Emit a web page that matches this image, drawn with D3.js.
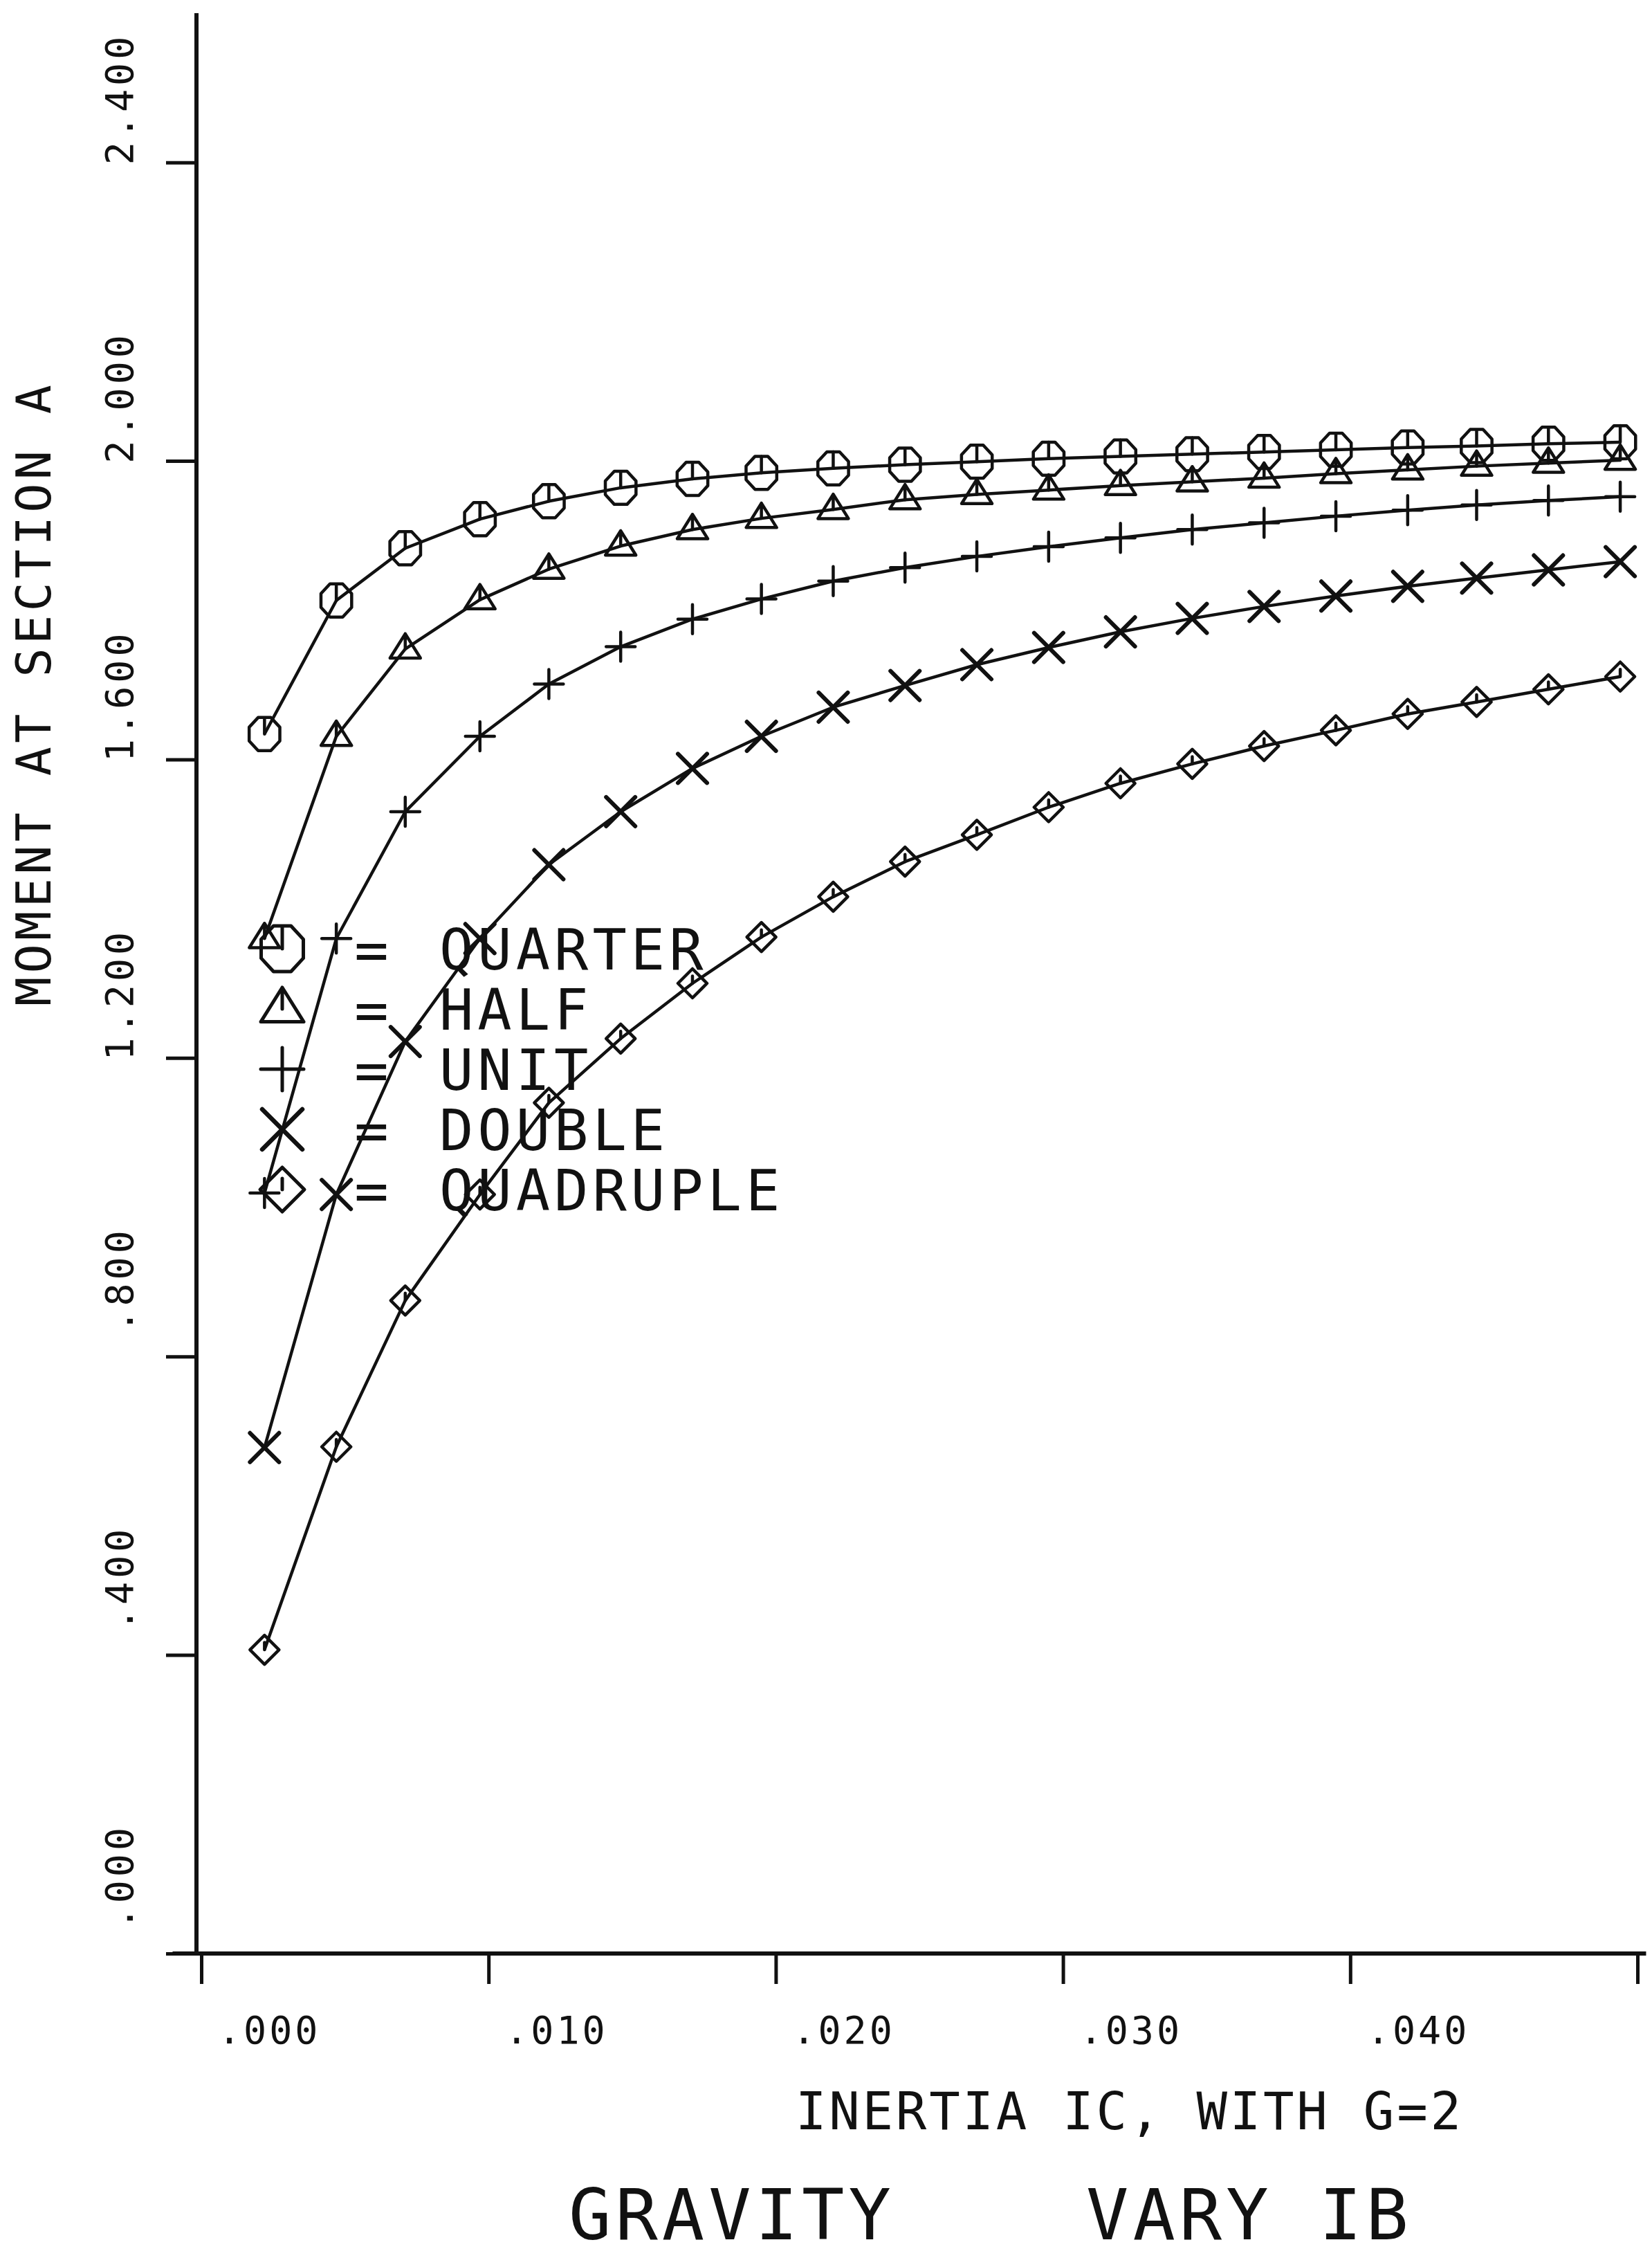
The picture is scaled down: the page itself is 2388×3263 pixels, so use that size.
<!DOCTYPE html>
<html>
<head>
<meta charset="utf-8">
<title>Gravity - vary IB</title>
<script src="https://cdn.jsdelivr.net/npm/d3@7"></script>
<style>
  html, body { margin: 0; padding: 0; background: #fff; }
  svg { display: block; }
  text { font-family: 'DejaVu Sans Mono', 'Liberation Mono', monospace; fill: #111; }
</style>
</head>
<body>
<div id="chart"></div>
<script>
// valores
const inertia = [0.0022, 0.0047, 0.0071, 0.0097, 0.0121, 0.0146, 0.0171, 0.0195, 0.0220, 0.0245,
  0.0270, 0.0295, 0.0320, 0.0345, 0.0370, 0.0395, 0.0420, 0.0444, 0.0469, 0.0494];
const quarter = [1.634, 1.813, 1.883, 1.922, 1.946, 1.964, 1.976, 1.984, 1.990, 1.995,
  1.999, 2.003, 2.006, 2.009, 2.012, 2.015, 2.018, 2.020, 2.023, 2.025];
const half = [1.360, 1.631, 1.748, 1.814, 1.855, 1.886, 1.908, 1.923, 1.935, 1.948,
  1.955, 1.961, 1.967, 1.972, 1.977, 1.983, 1.988, 1.993, 1.997, 2.001];
const unit = [1.019, 1.360, 1.530, 1.631, 1.701, 1.751, 1.788, 1.815, 1.839, 1.857,
  1.872, 1.885, 1.897, 1.908, 1.917, 1.926, 1.934, 1.941, 1.947, 1.952];
const double = [0.678, 1.017, 1.222, 1.360, 1.459, 1.530, 1.588, 1.631, 1.670, 1.699,
  1.727, 1.750, 1.771, 1.789, 1.805, 1.819, 1.832, 1.843, 1.854, 1.865];
const quadruple = [0.407, 0.679, 0.875, 1.017, 1.140, 1.226, 1.300, 1.362, 1.416, 1.463,
  1.499, 1.536, 1.568, 1.594, 1.618, 1.639, 1.661, 1.677, 1.694, 1.711];

const seriesNames = ['QUARTER', 'HALF', 'UNIT', 'DOUBLE', 'QUADRUPLE'];
const yTicks = [0, 0.4, 0.8, 1.2, 1.6, 2.0, 2.4];
const yTickLabels = ['.000', '.400', '.800', '1.200', '1.600', '2.000', '2.400'];
const xTicks = [0, 0.01, 0.02, 0.03, 0.04, 0.05];
const xTickLabels = ['.000', '.010', '.020', '.030', '.040', ''];

const width = 2388, height = 3263;
const ink = '#111';

// símbolos do plotter (tamanho = raio ao quadrado)
const octagon = { draw(ctx, size) {
  const r = Math.sqrt(size);
  for (let i = 0; i < 8; i++) {
    const a = Math.PI / 8 + i * Math.PI / 4;
    if (i) ctx.lineTo(r * Math.cos(a), r * 1.08 * Math.sin(a)); else ctx.moveTo(r * Math.cos(a), r * 1.08 * Math.sin(a));
  }
  ctx.closePath();
  ctx.moveTo(0, 0); ctx.lineTo(0, -r);
} };
const triangle = { draw(ctx, size) {
  const r = Math.sqrt(size);
  ctx.moveTo(0, -r); ctx.lineTo(r, r * 0.6); ctx.lineTo(-r, r * 0.6); ctx.closePath();
  ctx.moveTo(0, 0); ctx.lineTo(0, -r);
} };
const plus = { draw(ctx, size) {
  const r = Math.sqrt(size);
  ctx.moveTo(-r, 0); ctx.lineTo(r, 0);
  ctx.moveTo(0, -r); ctx.lineTo(0, r);
} };
const cross = { draw(ctx, size) {
  const r = Math.sqrt(size);
  ctx.moveTo(-r, -r); ctx.lineTo(r, r);
  ctx.moveTo(r, -r); ctx.lineTo(-r, r);
} };
const diamond = { draw(ctx, size) {
  const r = Math.sqrt(size);
  ctx.moveTo(0, -r); ctx.lineTo(r, 0); ctx.lineTo(0, r); ctx.lineTo(-r, 0); ctx.closePath();
  ctx.moveTo(0, 0); ctx.lineTo(0, -r * 0.5);
} };

const series = [
  { name: seriesNames[0], values: quarter, type: octagon, r: 24, lr: 33, sw: 4.5 },
  { name: seriesNames[1], values: half, type: triangle, r: 22, lr: 31, sw: 4.5 },
  { name: seriesNames[2], values: unit, type: plus, r: 21, lr: 31, sw: 4.5 },
  { name: seriesNames[3], values: double, type: cross, r: 21, lr: 29, sw: 6 },
  { name: seriesNames[4], values: quadruple, type: diamond, r: 21, lr: 32, sw: 4.5 }
];

const x = d3.scaleLinear().domain([0, 0.05]).range([291, 2367]);
const y = d3.scaleLinear().domain([0, 2.6]).range([2823, 19]);

const svg = d3.select('#chart').append('svg')
  .attr('width', width).attr('height', height)
  .attr('viewBox', `0 0 ${width} ${height}`);
svg.append('rect').attr('width', width).attr('height', height).attr('fill', '#fff');

// eixo Y
const yAxis = svg.append('g').attr('transform', 'translate(284,0)')
  .call(d3.axisLeft(y).tickValues(yTicks).tickSize(44).tickFormat(''));
yAxis.select('.domain').attr('stroke', ink).attr('stroke-width', 6).attr('d', `M0,${y(0)}V${y(2.6)}`);
yAxis.selectAll('.tick line').attr('stroke', ink).attr('stroke-width', 5);
svg.selectAll('.ylab').data(yTicks).enter().append('text')
  .attr('class', 'ylab')
  .attr('transform', d => `translate(192,${y(d) - 187}) rotate(-90)`)
  .attr('text-anchor', 'end')
  .attr('font-size', 55)
  .attr('letter-spacing', 5)
  .text((d, i) => yTickLabels[i]);

// eixo X
const xAxis = svg.append('g').attr('transform', `translate(0,${y(0)})`)
  .call(d3.axisBottom(x).tickValues(xTicks).tickSize(44).tickFormat(''));
xAxis.select('.domain').attr('stroke', ink).attr('stroke-width', 6).attr('d', `M${x(-0.001)},0H${x(0.0503)}`);
xAxis.selectAll('.tick line').attr('stroke', ink).attr('stroke-width', 5);
svg.selectAll('.xlab').data(xTicks).enter().append('text')
  .attr('class', 'xlab')
  .attr('x', d => x(d) + 24)
  .attr('y', 2953)
  .attr('font-size', 55)
  .attr('letter-spacing', 4)
  .text((d, i) => xTickLabels[i]);

// títulos
svg.append('text')
  .attr('transform', 'translate(73,1454) rotate(-90)')
  .attr('font-size', 70)
  .attr('textLength', 898).attr('lengthAdjust', 'spacing')
  .text('MOMENT AT SECTION A');
svg.append('text')
  .attr('x', 1150).attr('y', 3077)
  .attr('font-size', 74)
  .attr('textLength', 962).attr('lengthAdjust', 'spacing')
  .text('INERTIA IC, WITH G=2');
svg.append('text').attr('x', 822).attr('y', 3236).attr('font-size', 102).attr('letter-spacing', 6).text('GRAVITY');
svg.append('text').attr('x', 1570).attr('y', 3236).attr('font-size', 102).attr('letter-spacing', 6).text('VARY IB');

// curvas
const line = d3.line().x((d, i) => x(inertia[i])).y(d => y(d));
const curves = svg.append('g');
series.forEach(s => {
  curves.append('path')
    .attr('d', line(s.values))
    .attr('fill', 'none').attr('stroke', ink).attr('stroke-width', 4.5)
    .attr('stroke-linejoin', 'round');
  curves.selectAll(null).data(s.values).enter().append('path')
    .attr('transform', (d, i) => `translate(${x(inertia[i])},${y(d)})`)
    .attr('d', d3.symbol().type(s.type).size(s.r * s.r))
    .attr('fill', 'none').attr('stroke', ink).attr('stroke-width', s.sw)
    .attr('stroke-linecap', 'round').attr('stroke-linejoin', 'round');
});

// legenda
const legend = svg.append('g');
series.forEach((s, i) => {
  const ly = 1371 + 87 * i;
  legend.append('path')
    .attr('transform', `translate(408,${ly})`)
    .attr('d', d3.symbol().type(s.type).size(s.lr * s.lr))
    .attr('fill', 'none').attr('stroke', ink).attr('stroke-width', s.sw + 0.5)
    .attr('stroke-linecap', 'round').attr('stroke-linejoin', 'round');
  legend.append('text').attr('x', 537).attr('y', ly + 30).attr('font-size', 82)
    .attr('text-anchor', 'middle').text('=');
  legend.append('text').attr('x', 635).attr('y', ly + 30).attr('font-size', 82)
    .attr('letter-spacing', 6).text(s.name);
});
</script>
</body>
</html>
